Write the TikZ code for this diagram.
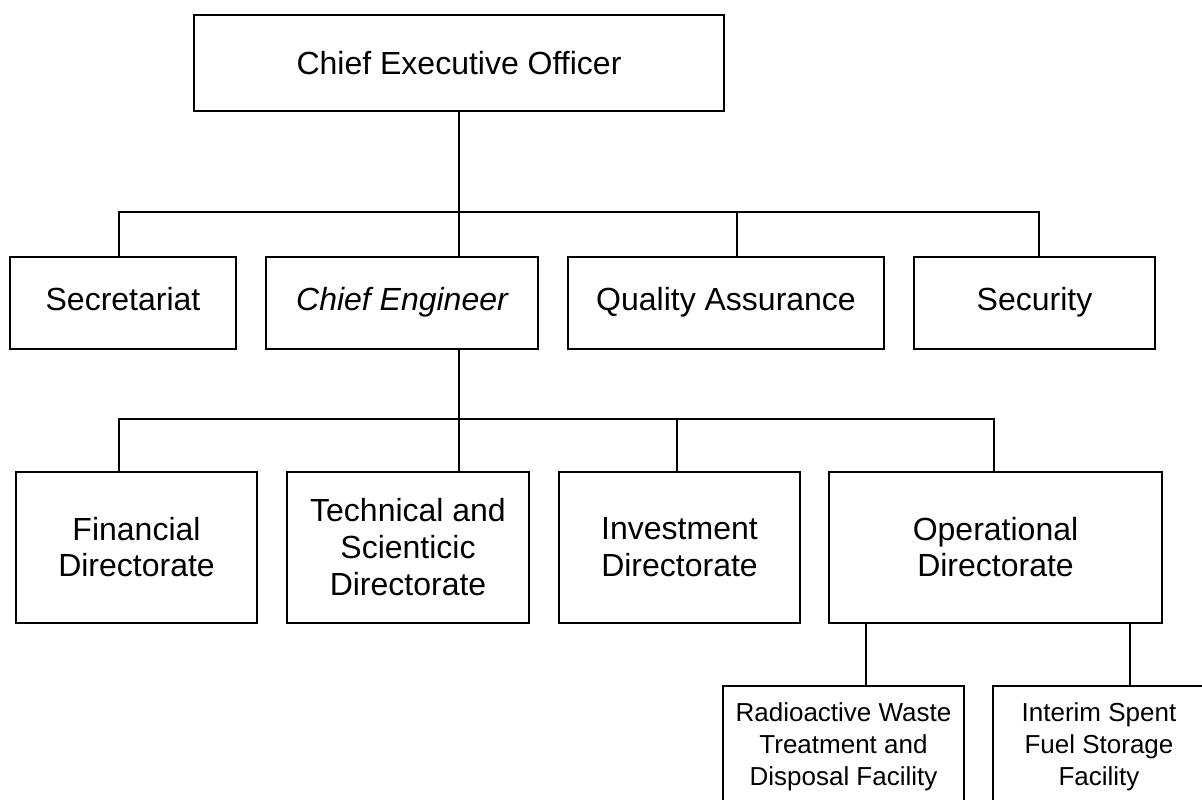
\documentclass[tikz,border=0pt]{standalone}
\usepackage{fontspec}
\setmainfont{Liberation Sans}

\tikzset{
	unit/.style={draw, line width=1.7pt, align=center, inner sep=0pt},
	staffbox/.style={unit, minimum height=92pt, text height=24pt, text depth=9.2pt, font=\fontsize{32}{37}\selectfont},
	dirbox/.style={unit, minimum height=151pt, font=\fontsize{32}{36.7}\selectfont},
	facbox/.style={unit, minimum height=122pt, font=\fontsize{26}{32}\selectfont},
	link/.style={line width=1.7pt}
}

\begin{document}
\begin{tikzpicture}[x=1pt, y=-1pt]
			\clip (0,0) rectangle (1202,800);
			\fill[white] (0,0) rectangle (1202,800);

			\node[unit, minimum width=530pt, minimum height=96pt, font=\fontsize{32}{37}\selectfont] (ceo) at (459, 62.7) {Chief Executive Officer};

			\node[staffbox, minimum width=226pt] (sec)   at (123,   303.3) {Secretariat};
			\node[staffbox, minimum width=272pt] (chief) at (402,   303.3) {\itshape Chief Engineer};
			\node[staffbox, minimum width=316pt] (qa)    at (726,   303.3) {Quality Assurance};
			\node[staffbox, minimum width=241pt] (secu)  at (1034.5,303.3) {Security};

			\node[dirbox, minimum width=241pt] (fin)  at (136.5, 547.2) {Financial\\Directorate};
			\node[dirbox, minimum width=242pt] (tech) at (408,   547.2) {Technical and\\Scienticic\\Directorate};
			\node[dirbox, minimum width=241pt] (inv)  at (679.5, 547.2) {Investment\\Directorate};
			\node[dirbox, minimum width=333pt] (ops)  at (995.5, 547.2) {Operational\\Directorate};

			\node[facbox, minimum width=241pt] (rw)  at (843.5, 747) {Radioactive Waste\\Treatment and\\Disposal Facility};
			\node[facbox, minimum width=212pt] (isf) at (1099,  747) {Interim Spent\\Fuel Storage\\Facility};

			% first level
			\coordinate (busA) at (119, 212);
			\coordinate (busB) at (1039,212);
			\coordinate (qaup) at (737, 212);
			\draw[link] (ceo.south) -- (ceo.south |- chief.north);
			\draw[link] (busA |- sec.north) -- (busA) -- (busB) -- (busB |- secu.north);
			\draw[link] (qaup) -- (qaup |- qa.north);

			% directorates
			\coordinate (busC) at (119, 418.7);
			\coordinate (busD) at (994, 418.7);
			\coordinate (invup) at (677, 418.7);
			\coordinate (trunk) at (459, 418.7);
			\draw[link] (trunk |- chief.south) -- (trunk |- tech.north);
			\draw[link] (busC |- fin.north) -- (busC) -- (busD) -- (busD |- ops.north);
			\draw[link] (invup) -- (invup |- inv.north);

			% facilities
			\coordinate (rwup)  at (866,  650);
			\coordinate (isfup) at (1130, 650);
			\draw[link] (rwup |- ops.south) -- (rwup |- rw.north);
			\draw[link] (isfup |- ops.south) -- (isfup |- isf.north);
		\end{tikzpicture}
\end{document}
